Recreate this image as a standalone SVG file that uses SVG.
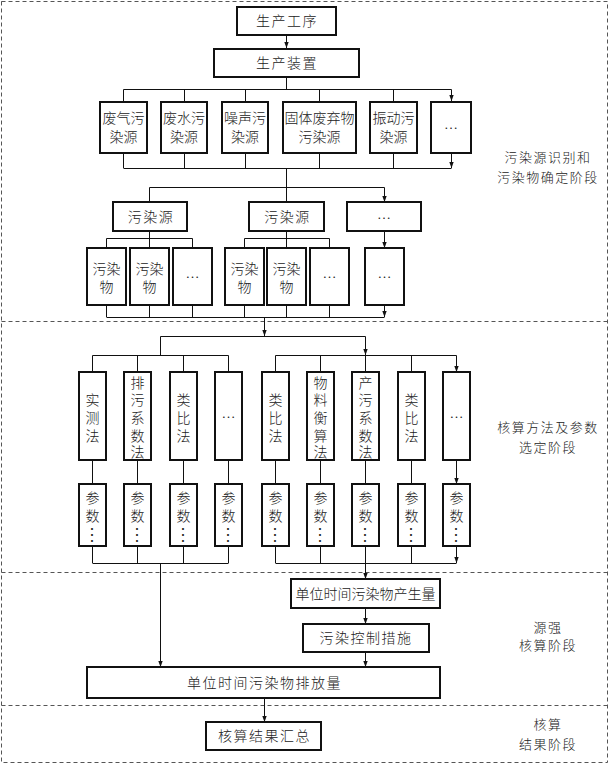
<svg xmlns="http://www.w3.org/2000/svg" width="609" height="764" viewBox="0 0 609 764">
<style>
.box{fill:#fff;stroke:#111;stroke-width:2}
.sec{fill:none;stroke:#555;stroke-width:1;stroke-dasharray:4 3}
.c{fill:none;stroke:#111;stroke-width:1}
.a{marker-end:url(#ah)}
text{font-family:"Liberation Sans","Noto Sans CJK SC",sans-serif;font-size:14px;text-anchor:middle;dominant-baseline:central;fill:#222;font-weight:300}
.lb{font-size:13px;letter-spacing:1.5px}
.sp{letter-spacing:1.5px}
.e{font-family:"Noto Sans CJK SC",sans-serif}
.dv{font-family:"Noto Sans CJK SC",sans-serif;font-size:18px}
</style>
<defs>
<marker id="ah" viewBox="0 0 6 6" refX="6" refY="3" markerWidth="6" markerHeight="6" markerUnits="userSpaceOnUse" orient="auto">
<path d="M0,0.8 L6,3 L0,5.2 Z" fill="#111"/>
</marker>
</defs>
<rect width="609" height="764" fill="#fff"/>
<g id="stages">
<rect class="sec" x="1.5" y="1.5" width="606" height="761"/>
<line class="sec" x1="1.5" y1="321.5" x2="607.5" y2="321.5"/>
<line class="sec" x1="1.5" y1="572.5" x2="607.5" y2="572.5"/>
<line class="sec" x1="1.5" y1="705.5" x2="607.5" y2="705.5"/>
<text class="lb" x="548" y="157">污染源识别和</text>
<text class="lb" x="548" y="177">污染物确定阶段</text>
<text class="lb" x="548" y="427">核算方法及参数</text>
<text class="lb" x="548" y="447">选定阶段</text>
<text class="lb" x="548" y="627">源强</text>
<text class="lb" x="548" y="645">核算阶段</text>
<text class="lb" x="548" y="724">核算</text>
<text class="lb" x="548" y="744">结果阶段</text>
</g>
<g id="connectors">
<path class="c a" d="M286.5,35 V48"/>
<path class="c" d="M286.5,77 V89.5 M123.5,89.5 H451.5"/>
<path class="c a" d="M123.5,89.5 V101 M184.5,89.5 V101 M245.5,89.5 V101 M319.5,89.5 V101 M393.5,89.5 V101 M451.5,89.5 V101"/>
<path class="c a" d="M123.5,153 V168 M184.5,153 V168 M245.5,153 V168 M319.5,153 V168 M393.5,153 V168 M451.5,153 V168"/>
<path class="c" d="M123.5,168.5 H451.5 M286.5,168.5 V187.5 M149.5,187.5 H384.5"/>
<path class="c a" d="M149.5,187.5 V202 M286.5,187.5 V202 M384.5,187.5 V202"/>
<path class="c" d="M149.5,231 V238.5 M106.5,238.5 H192.5 M286.5,231 V238.5 M244.5,238.5 H329.5"/>
<path class="c a" d="M106.5,238.5 V248 M149.5,238.5 V248 M192.5,238.5 V248 M244.5,238.5 V248 M286.5,238.5 V248 M329.5,238.5 V248 M384.5,231 V248"/>
<path class="c a" d="M106.5,305 V317 M149.5,305 V317 M192.5,305 V317 M244.5,305 V317 M286.5,305 V317 M329.5,305 V317 M384.5,305 V317"/>
<path class="c" d="M106.5,317.5 H384.5"/>
<path class="c a" d="M264.5,317.5 V336"/>
<path class="c" d="M160.5,336.5 H365.5"/>
<path class="c a" d="M160.5,336.5 V355 M365.5,336.5 V355"/>
<path class="c" d="M92.5,355.5 H228.5 M275.5,355.5 H456.5"/>
<path class="c a" d="M92.5,355.5 V372 M137.5,355.5 V372 M183.5,355.5 V372 M228.5,355.5 V372 M275.5,355.5 V372 M320.5,355.5 V372 M365.5,355.5 V372 M411.5,355.5 V372 M456.5,355.5 V372"/>
<path class="c a" d="M92.5,460 V484 M137.5,460 V484 M183.5,460 V484 M228.5,460 V484 M275.5,460 V484 M320.5,460 V484 M365.5,460 V484 M411.5,460 V484 M456.5,460 V484"/>
<path class="c a" d="M92.5,546 V563 M137.5,546 V563 M183.5,546 V563 M228.5,546 V563 M275.5,546 V563 M320.5,546 V563 M411.5,546 V563 M456.5,546 V563"/>
<path class="c" d="M92.5,563.5 H228.5 M275.5,563.5 H456.5"/>
<path class="c a" d="M160.5,563.5 V667"/>
<path class="c a" d="M365.5,546 V579"/>
<path class="c a" d="M365.5,608 V624"/>
<path class="c a" d="M365.5,652 V667"/>
<path class="c a" d="M264.5,698 V722"/>
</g>
<g id="n-process"><rect class="box" x="237" y="7" width="99" height="28"/><text class="sp" x="287" y="21">生产工序</text></g>
<g id="n-device"><rect class="box" x="214" y="49" width="145" height="28"/><text class="sp" x="287" y="63">生产装置</text></g>
<g id="n-gas"><rect class="box" x="100" y="102" width="47" height="51"/><text x="123.5" y="118">废气污</text><text x="123.5" y="137">染源</text></g>
<g id="n-water"><rect class="box" x="161" y="102" width="46" height="51"/><text x="184" y="118">废水污</text><text x="184" y="137">染源</text></g>
<g id="n-noise"><rect class="box" x="222" y="102" width="46" height="51"/><text x="245" y="118">噪声污</text><text x="245" y="137">染源</text></g>
<g id="n-solid"><rect class="box" x="283" y="102" width="73" height="51"/><text x="319.5" y="118">固体废弃物</text><text x="319.5" y="137">污染源</text></g>
<g id="n-vib"><rect class="box" x="370" y="102" width="47" height="51"/><text x="393.5" y="118">振动污</text><text x="393.5" y="137">染源</text></g>
<g id="n-more1"><rect class="box" x="431" y="102" width="40" height="51"/><text class="e" x="451" y="127">…</text></g>
<g id="n-src1"><rect class="box" x="113" y="202" width="74" height="29"/><text class="sp" x="151" y="216.5">污染源</text></g>
<g id="n-src2"><rect class="box" x="249" y="202" width="75" height="29"/><text class="sp" x="287.5" y="216.5">污染源</text></g>
<g id="n-src3"><rect class="box" x="347" y="202" width="74" height="29"/><text class="e" x="384" y="216.5">…</text></g>
<g id="n-p1"><rect class="box" x="87" y="248" width="39" height="57"/><text x="106.5" y="269">污染</text><text x="106.5" y="287">物</text></g>
<g id="n-p2"><rect class="box" x="130" y="248" width="39" height="57"/><text x="149.5" y="269">污染</text><text x="149.5" y="287">物</text></g>
<g id="n-p3"><rect class="box" x="173" y="248" width="39" height="57"/><text class="e" x="192.5" y="276">…</text></g>
<g id="n-p4"><rect class="box" x="225" y="248" width="39" height="57"/><text x="244.5" y="269">污染</text><text x="244.5" y="287">物</text></g>
<g id="n-p5"><rect class="box" x="267" y="248" width="39" height="57"/><text x="286.5" y="269">污染</text><text x="286.5" y="287">物</text></g>
<g id="n-p6"><rect class="box" x="310" y="248" width="39" height="57"/><text class="e" x="329.5" y="276">…</text></g>
<g id="n-p7"><rect class="box" x="365" y="248" width="39" height="57"/><text class="e" x="384.5" y="276">…</text></g>
<g id="n-m1"><rect class="box" x="79" y="372" width="27" height="88"/><text x="92.5" y="400">实</text><text x="92.5" y="418">测</text><text x="92.5" y="435.5">法</text></g>
<g id="n-m2"><rect class="box" x="124" y="372" width="27" height="88"/><text x="137.5" y="382.5">排</text><text x="137.5" y="400">污</text><text x="137.5" y="418">系</text><text x="137.5" y="435.5">数</text><text x="137.5" y="452">法</text></g>
<g id="n-m3"><rect class="box" x="170" y="372" width="27" height="88"/><text x="183.5" y="400">类</text><text x="183.5" y="418">比</text><text x="183.5" y="435.5">法</text></g>
<g id="n-m4"><rect class="box" x="215" y="372" width="27" height="88"/><text class="e" x="228.5" y="416">…</text></g>
<g id="n-m5"><rect class="box" x="262" y="372" width="27" height="88"/><text x="275.5" y="400">类</text><text x="275.5" y="418">比</text><text x="275.5" y="435.5">法</text></g>
<g id="n-m6"><rect class="box" x="307" y="372" width="27" height="88"/><text x="320.5" y="382.5">物</text><text x="320.5" y="400">料</text><text x="320.5" y="418">衡</text><text x="320.5" y="435.5">算</text><text x="320.5" y="452">法</text></g>
<g id="n-m7"><rect class="box" x="352" y="372" width="27" height="88"/><text x="365.5" y="382.5">产</text><text x="365.5" y="400">污</text><text x="365.5" y="418">系</text><text x="365.5" y="435.5">数</text><text x="365.5" y="452">法</text></g>
<g id="n-m8"><rect class="box" x="398" y="372" width="27" height="88"/><text x="411.5" y="400">类</text><text x="411.5" y="418">比</text><text x="411.5" y="435.5">法</text></g>
<g id="n-m9"><rect class="box" x="443" y="372" width="27" height="88"/><text class="e" x="456.5" y="416">…</text></g>
<g id="n-k1"><rect class="box" x="79" y="484" width="27" height="62"/><text x="92.5" y="498">参</text><text x="92.5" y="516">数</text><text class="dv" transform="translate(92.5,535) rotate(90)">…</text></g>
<g id="n-k2"><rect class="box" x="124" y="484" width="27" height="62"/><text x="137.5" y="498">参</text><text x="137.5" y="516">数</text><text class="dv" transform="translate(137.5,535) rotate(90)">…</text></g>
<g id="n-k3"><rect class="box" x="170" y="484" width="27" height="62"/><text x="183.5" y="498">参</text><text x="183.5" y="516">数</text><text class="dv" transform="translate(183.5,535) rotate(90)">…</text></g>
<g id="n-k4"><rect class="box" x="215" y="484" width="27" height="62"/><text x="228.5" y="498">参</text><text x="228.5" y="516">数</text><text class="dv" transform="translate(228.5,535) rotate(90)">…</text></g>
<g id="n-k5"><rect class="box" x="262" y="484" width="27" height="62"/><text x="275.5" y="498">参</text><text x="275.5" y="516">数</text><text class="dv" transform="translate(275.5,535) rotate(90)">…</text></g>
<g id="n-k6"><rect class="box" x="307" y="484" width="27" height="62"/><text x="320.5" y="498">参</text><text x="320.5" y="516">数</text><text class="dv" transform="translate(320.5,535) rotate(90)">…</text></g>
<g id="n-k7"><rect class="box" x="352" y="484" width="27" height="62"/><text x="365.5" y="498">参</text><text x="365.5" y="516">数</text><text class="dv" transform="translate(365.5,535) rotate(90)">…</text></g>
<g id="n-k8"><rect class="box" x="398" y="484" width="27" height="62"/><text x="411.5" y="498">参</text><text x="411.5" y="516">数</text><text class="dv" transform="translate(411.5,535) rotate(90)">…</text></g>
<g id="n-k9"><rect class="box" x="443" y="484" width="27" height="62"/><text x="456.5" y="498">参</text><text x="456.5" y="516">数</text><text class="dv" transform="translate(456.5,535) rotate(90)">…</text></g>
<g id="n-gen"><rect class="box" x="291" y="579" width="149" height="29"/><text x="365.5" y="593.5">单位时间污染物产生量</text></g>
<g id="n-ctrl"><rect class="box" x="303" y="624" width="126" height="28"/><text class="sp" x="366" y="638">污染控制措施</text></g>
<g id="n-emit"><rect class="box" x="87" y="667" width="353" height="31"/><text class="sp" x="264.5" y="682.5">单位时间污染物排放量</text></g>
<g id="n-sum"><rect class="box" x="206" y="722" width="115" height="28"/><text class="sp" x="264.5" y="736">核算结果汇总</text></g>
</svg>
